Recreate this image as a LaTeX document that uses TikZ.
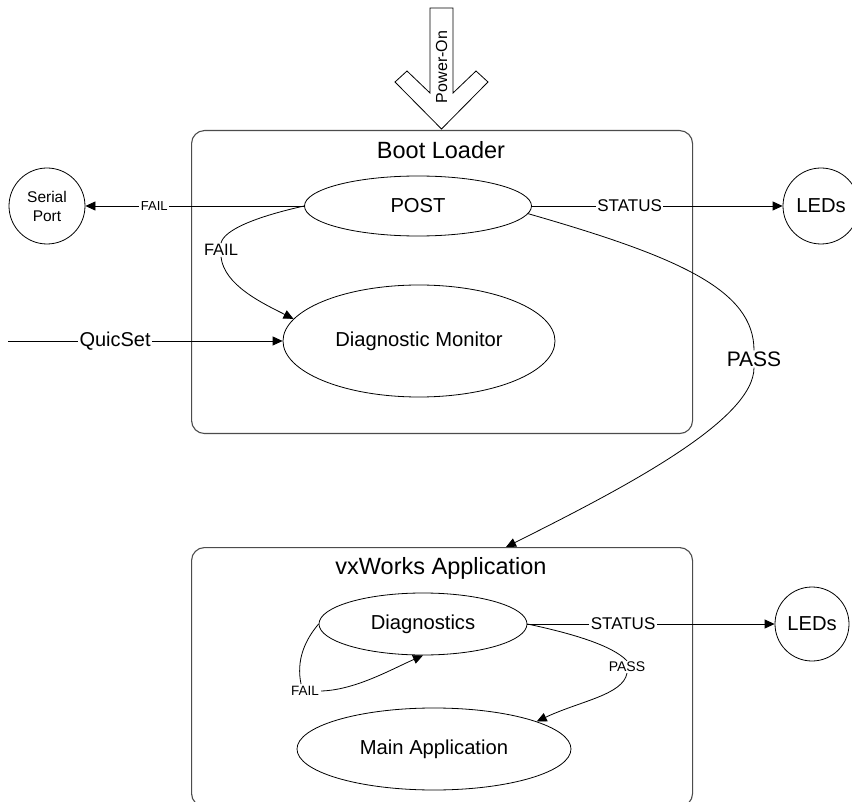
\documentclass[tikz,border=0pt]{standalone}
\usepackage{fontspec}
\setmainfont{Liberation Sans}
\usetikzlibrary{shapes.geometric,arrows.meta}
\begin{document}
\begin{tikzpicture}[x=1pt,y=-1pt,
  every node/.style={font=\fontsize{20.2}{23}\selectfont},
  ell/.style={draw, ellipse, inner sep=0pt, line width=0.8pt},
  circ/.style={draw, circle, inner sep=0pt, line width=0.8pt},
  frame/.style={draw=black!70, line width=1.1pt, rounded corners=13pt, rectangle, inner sep=0pt, anchor=north west},
  conn/.style={line width=0.8pt},
  arr/.style={conn, -{Triangle[length=10pt,width=9pt]}},
  lbl/.style={fill=white, inner sep=1.5pt},
]
\useasboundingbox (0,0) rectangle (852,802);
\fill[white] (0,0) rectangle (852,802);

% frames
\node[frame, minimum width=501pt, minimum height=303pt] (boot) at (191,130) {};
\node[font=\fontsize{23.5}{26}\selectfont] (bltitle) at (441,150) {Boot Loader};
\node[frame, minimum width=501pt, minimum height=259pt] (vx) at (191,547) {};
\node[font=\fontsize{23.5}{26}\selectfont] (vxtitle) at (441,568) {vxWorks Application};
\coordinate (passend) at (506,547);

% power-on block arrow
\draw[line width=0.8pt, fill=white] (430,8) -- (453,8) -- (453,93) -- (476,71) -- (488,82)
  -- (441.5,129) -- (395,82) -- (407,71) -- (430,93) -- cycle;
\node[rotate=90, font=\fontsize{16}{19}\selectfont] (pwr) at (441.5,67) {Power-On};

% state nodes
\node[ell, minimum width=227pt, minimum height=60pt] (post) at (418,206) {POST};
\node[ell, minimum width=272pt, minimum height=112pt] (diagmon) at (419,341) {Diagnostic Monitor};
\node[circ, minimum size=76pt, font=\fontsize{15.5}{19}\selectfont, align=center] (serial) at (47,206) {Serial\\Port};
\node[circ, minimum size=76pt] (led1) at (821,206) {LEDs};
\node[ell, minimum width=208pt, minimum height=62pt] (diag) at (423,624) {Diagnostics};
\node[ell, minimum width=274pt, minimum height=82pt] (mainapp) at (434,749) {Main Application};
\node[circ, minimum size=74pt] (led2) at (812,624) {LEDs};

% straight connectors
\draw[arr] (post.west) -- node[lbl, pos=0.685, font=\fontsize{13}{15}\selectfont]{FAIL} (serial.east);
\draw[arr] (post.east) -- node[lbl, pos=0.39, font=\fontsize{17}{20}\selectfont]{STATUS} (led1.west);
\coordinate (qstart) at (8,341);
\draw[arr] (qstart) -- node[lbl, pos=0.39, font=\fontsize{20}{24}\selectfont]{QuicSet} (diagmon.west);
\draw[arr] (diag.east) -- node[lbl, pos=0.387, font=\fontsize{17}{20}\selectfont]{STATUS} (led2.west);

% POST FAIL -> Diagnostic Monitor
\node[lbl, font=\fontsize{16.5}{19}\selectfont, inner sep=1pt] (fail1) at (221,250) {FAIL};
\draw[conn] (post.west) .. controls (255,217) and (224,230) .. (fail1.north);
\draw[arr] (fail1.south) .. controls (224,285) and (262,303) .. (diagmon.170);

% POST PASS -> vxWorks
\node[lbl, font=\fontsize{21}{24}\selectfont, inner sep=1pt] (pass1) at (754,359) {PASS};
\draw[conn] (post.-4) .. controls (679,257) and (754,290) .. (pass1.north);
\draw[arr] (pass1.south) .. controls (754,420) and (626,487) .. (passend);

% Diagnostics PASS -> Main Application
\node[lbl, font=\fontsize{14}{16}\selectfont, inner sep=1pt] (pass2) at (627,667) {PASS};
\draw[conn] (diag.east) .. controls (570,633) and (612,645) .. (pass2.north);
\draw[arr] (pass2.south) .. controls (623,695) and (580,701) .. (mainapp.15);

% Diagnostics FAIL loop
\node[lbl, font=\fontsize{13.5}{15}\selectfont, inner sep=2pt] (fail2) at (305,691) {FAIL};
\draw[conn] (diag.west) .. controls (305,640) and (296,660) .. (fail2.120);
\draw[arr] (fail2.east) .. controls (355,690) and (390,670) .. (diag.south);
\end{tikzpicture}
\end{document}
